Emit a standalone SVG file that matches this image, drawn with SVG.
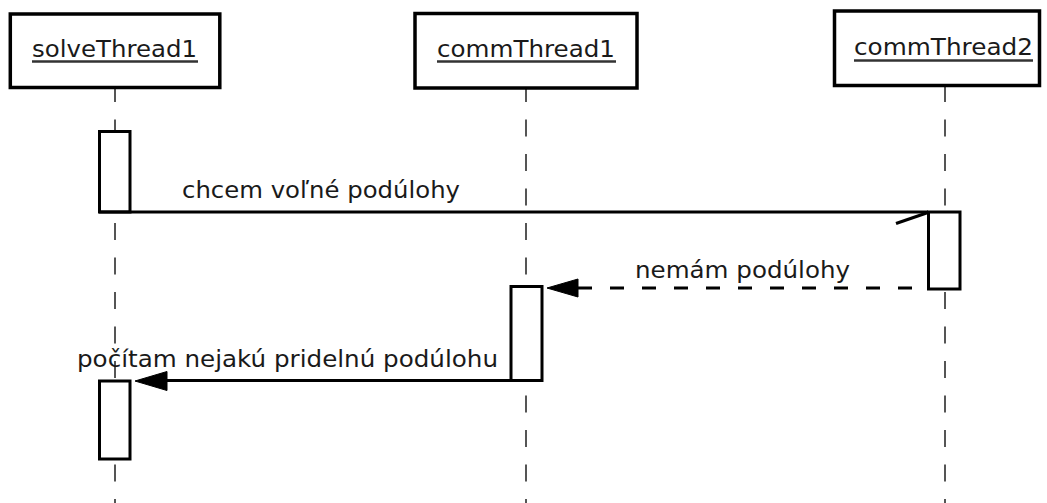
<svg xmlns="http://www.w3.org/2000/svg" width="1047" height="503" viewBox="0 0 1047 503">
  <style>
    .bg { fill: #ffffff; }
    .head { fill: #ffffff; stroke: #000000; stroke-width: 3.5; }
    .act { fill: #ffffff; stroke: #000000; stroke-width: 3; }
    .life { stroke: #555555; stroke-width: 2; stroke-dasharray: 17 17.5; fill: none; }
    .name { font-family: "DejaVu Sans", "Liberation Sans", sans-serif; font-size: 23px; fill: #1a1a1a; }
    .uline { stroke: #333333; stroke-width: 2.5; }
    .label { font-family: "DejaVu Sans", "Liberation Sans", sans-serif; font-size: 23px; fill: #1a1a1a; }
    .msg { stroke: #000000; stroke-width: 3; fill: none; }
    .dash { stroke-dasharray: 14 18; }
    .tip { fill: #000000; stroke: #000000; stroke-width: 1; stroke-linejoin: miter; }
  </style>

  <rect class="bg" x="0" y="0" width="1047" height="503"/>

  <!-- lifelines -->
  <g id="lifelines">
    <line class="life" x1="115" y1="85" x2="115" y2="503"/>
    <line class="life" x1="526" y1="85" x2="526" y2="503"/>
    <line class="life" x1="945" y1="85" x2="945" y2="503"/>
  </g>

  <!-- participant: solveThread1 -->
  <g id="solveThread1">
    <rect class="head" x="10.3" y="14" width="209.5" height="73.5"/>
    <text class="name" x="32" y="56.5" textLength="165" lengthAdjust="spacingAndGlyphs">solveThread1</text>
    <line class="uline" x1="32" y1="61.5" x2="198" y2="61.5"/>
    <rect class="act" x="99.5" y="131.5" width="30.5" height="80.5"/>
    <rect class="act" x="99.5" y="381" width="30.5" height="78"/>
  </g>

  <!-- participant: commThread1 -->
  <g id="commThread1">
    <rect class="head" x="415" y="13.5" width="222" height="74.5"/>
    <text class="name" x="437" y="56.5" textLength="178" lengthAdjust="spacingAndGlyphs">commThread1</text>
    <line class="uline" x1="437" y1="61.5" x2="616" y2="61.5"/>
    <rect class="act" x="511" y="286.5" width="31" height="94"/>
  </g>

  <!-- participant: commThread2 -->
  <g id="commThread2">
    <rect class="head" x="834.5" y="11" width="205" height="74.5"/>
    <text class="name" x="854" y="54.5" textLength="179" lengthAdjust="spacingAndGlyphs">commThread2</text>
    <line class="uline" x1="854" y1="60.5" x2="1033" y2="60.5"/>
    <rect class="act" x="928.5" y="212" width="31.5" height="77"/>
  </g>

  <!-- messages -->
  <g id="connectors">
    <!-- asynchronous request -->
    <line class="msg" x1="99" y1="212" x2="928" y2="212"/>
    <line class="msg" x1="896" y1="223.5" x2="928" y2="212.5"/>
    <text class="label" x="182" y="197.5" textLength="278" lengthAdjust="spacingAndGlyphs">chcem voľné podúlohy</text>

    <!-- dashed reply -->
    <line class="msg dash" x1="578" y1="288" x2="930" y2="288"/>
    <polygon class="tip" points="547,288 578,279 578,297"/>
    <text class="label" x="635" y="278" textLength="215" lengthAdjust="spacingAndGlyphs">nemám podúlohy</text>

    <!-- synchronous call back to solver -->
    <line class="msg" x1="166" y1="380.5" x2="511" y2="380.5"/>
    <polygon class="tip" points="135,381 167,371.5 167,390.5"/>
    <text class="label" x="77" y="367" textLength="421" lengthAdjust="spacingAndGlyphs">počítam nejakú pridelnú podúlohu</text>
  </g>
</svg>
